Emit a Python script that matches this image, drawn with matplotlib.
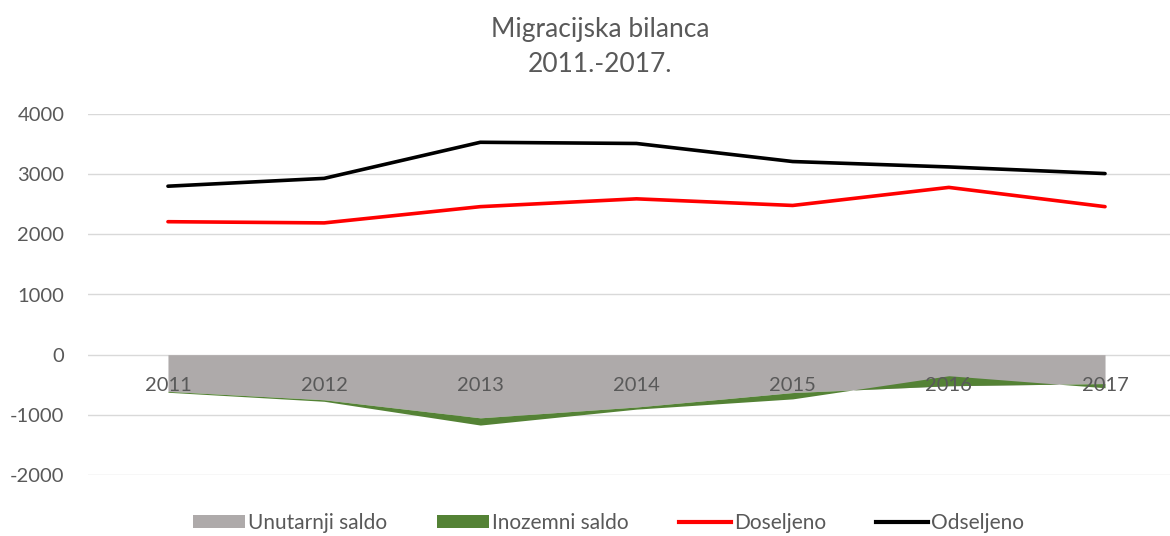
import matplotlib
matplotlib.use("Agg")
import matplotlib.pyplot as plt
import numpy as np
from matplotlib.patches import Patch
from matplotlib.lines import Line2D

plt.rcParams["font.family"] = ["Lato", "DejaVu Sans"]
plt.rcParams["axes.unicode_minus"] = False

# data
years = ["2011", "2012", "2013", "2014", "2015", "2016", "2017"]
unutarnji = [-610, -750, -1050, -870, -630, -517, -480]
inozemni = [-15, -25, -120, -35, -105, 167, -70]
doseljeno = [2210, 2190, 2460, 2590, 2480, 2780, 2460]
odseljeno = [2800, 2930, 3530, 3510, 3210, 3120, 3010]

text_col = "#595959"
grey = "#aeaaaa"
green = "#548235"

x = np.arange(len(years))
u = np.array(unutarnji)
total = u + np.array(inozemni)

fig = plt.figure(figsize=(11.7, 5.36), dpi=100)
ax = fig.add_axes([88 / 1170, 1 - 475 / 536, (1170 - 88) / 1170, 361 / 536])

ax.fill_between(x, 0, u, color=grey, lw=0, zorder=2)
ax.fill_between(x, u, total, color=green, lw=0, zorder=3)
ax.plot(x, doseljeno, color="#ff0000", lw=2.6, zorder=4, solid_capstyle="round")
ax.plot(x, odseljeno, color="#000000", lw=2.6, zorder=4, solid_capstyle="round")

ax.set_ylim(-2000, 4000)
ax.set_xlim(-0.512, 6.416)
ax.set_yticks(range(-2000, 4001, 1000))
ax.yaxis.grid(True, color="#d9d9d9", lw=1)
ax.set_axisbelow(True)
for s in ax.spines.values():
    s.set_visible(False)
ax.tick_params(axis="y", length=0, labelsize=14.5, labelcolor=text_col, pad=17)

ax.set_xticks(x)
ax.set_xticklabels([])
ax.tick_params(axis="x", length=0)
for xi, yr in zip(x, years):
    ax.text(xi, -510, yr, ha="center", va="center", fontsize=14.5,
            color=text_col, zorder=5)

fig.text(0.513, 1 - 30 / 536, "Migracijska bilanca", ha="center", va="center",
         fontsize=19, color=text_col)
fig.text(0.513, 1 - 65 / 536, "2011.-2017.", ha="center", va="center",
         fontsize=19, color=text_col)

handles = [
    Patch(facecolor=grey, edgecolor="none"),
    Patch(facecolor=green, edgecolor="none"),
    Line2D([], [], color="#ff0000", lw=3),
    Line2D([], [], color="#000000", lw=3),
]
labels = ["Unutarnji saldo", "Inozemni saldo", "Doseljeno", "Odseljeno"]
fig.legend(handles, labels, loc="center", bbox_to_anchor=(0.52, 1 - 523 / 536),
           ncol=4, frameon=False, fontsize=15, labelcolor=text_col,
           handlelength=2.5, handleheight=0.55, handletextpad=0.15, columnspacing=2.4)

fig.savefig("out.png", dpi=100)
